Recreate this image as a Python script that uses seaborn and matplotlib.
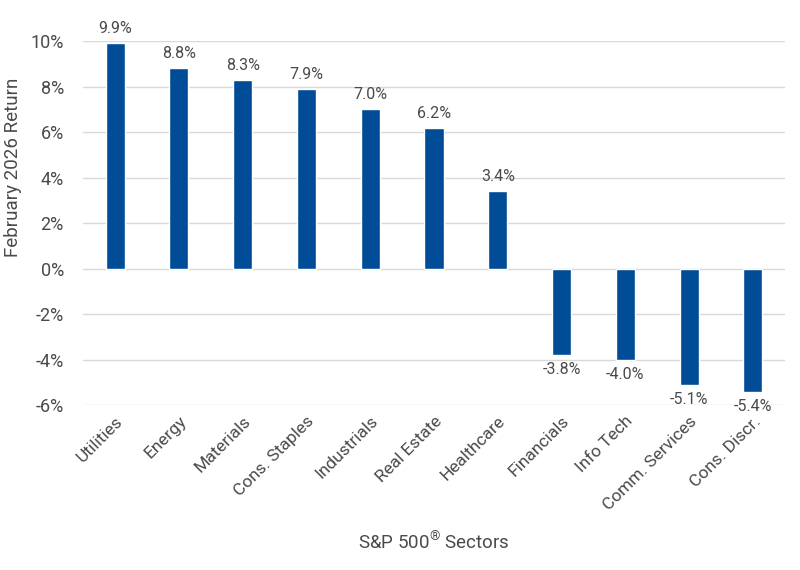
import matplotlib
matplotlib.use("Agg")
import matplotlib.pyplot as plt
import seaborn as sns
import pandas as pd

sectors = ["Utilities", "Energy", "Materials", "Cons. Staples", "Industrials", "Real Estate",
           "Healthcare", "Financials", "Info Tech", "Comm. Services", "Cons. Discr."]
returns = [9.9, 8.8, 8.3, 7.9, 7.0, 6.2, 3.4, -3.8, -4.0, -5.1, -5.4]
yticks = [-6, -4, -2, 0, 2, 4, 6, 8, 10]

df = pd.DataFrame({"Sector": sectors, "Return": returns})

sns.set_theme(style="white")
plt.rcParams['font.family'] = ['Roboto', 'DejaVu Sans']
plt.rcParams['mathtext.fontset'] = 'custom'
plt.rcParams['mathtext.rm'] = 'Roboto'
txt = "#4a4a4a"

fig = plt.figure(figsize=(8, 5.7), dpi=100)
ax = fig.add_axes([0.104, 0.289, 0.877, 0.639])
sns.barplot(data=df, x="Sector", y="Return", color="#004C97", saturation=1, width=0.3, ax=ax)

ax.set_ylim(-6, 10)
ax.set_yticks(yticks)
ax.set_yticklabels([f"{t}%" for t in yticks], fontsize=13, color=txt)
ax.yaxis.grid(True, color="#D9D9D9", linewidth=1)
ax.set_axisbelow(True)
sns.despine(left=True, bottom=True)
ax.tick_params(axis="both", length=0)
ax.tick_params(axis="y", pad=14)
ax.tick_params(axis="x", pad=6)
ax.set_xticks(range(len(sectors)))
ax.set_xticklabels(sectors, rotation=45, ha="right", rotation_mode="anchor", fontsize=12.5, color=txt)

for i, v in enumerate(returns):
    if v >= 0:
        ax.annotate(f"{v:.1f}%", (i, v), xytext=(0, 5), textcoords="offset points",
                    ha="center", va="bottom", fontsize=11.5, color=txt, annotation_clip=False)
    else:
        ax.annotate(f"{v:.1f}%", (i, v), xytext=(0, -5), textcoords="offset points",
                    ha="center", va="top", fontsize=11.5, color=txt, annotation_clip=False)

ax.set_xlabel("S&P 500$^{\\mathrm{®}}$ Sectors", fontsize=13.5, color=txt)
ax.set_ylabel("February 2026 Return", fontsize=13.5, color=txt)
ax.xaxis.set_label_coords(0.5, -0.345)
ax.yaxis.set_label_coords(-0.087, 0.654)

fig.savefig("out.png", dpi=100)
